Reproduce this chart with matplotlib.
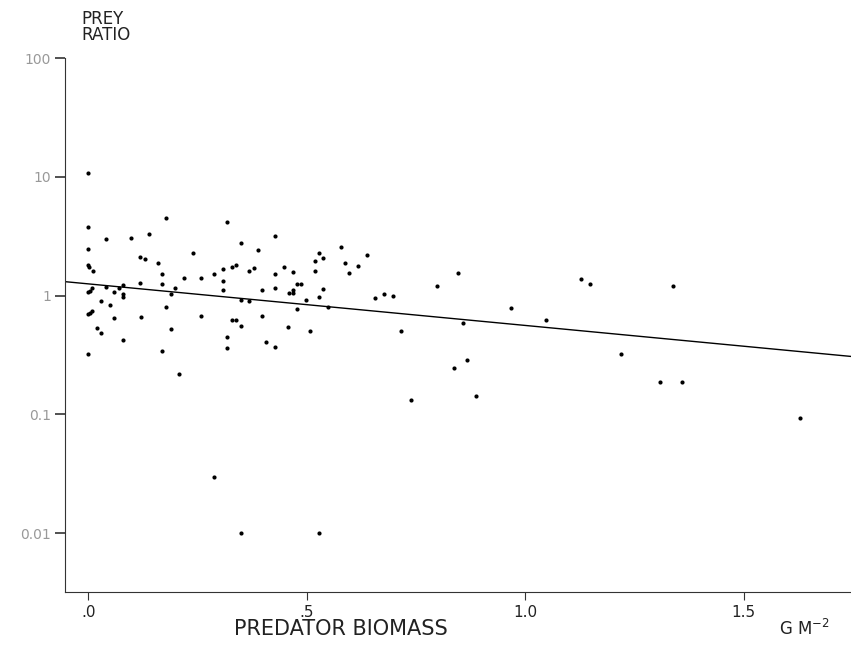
import numpy as np
import matplotlib
matplotlib.use('Agg')
import matplotlib.pyplot as plt

# predator biomass (g m-2) and prey ratio
biomass = [
    0.000, 0.000, 0.000, 0.000, 0.002, 0.011, 0.000, 0.005, 0.009,
    0.000, 0.005, 0.009, 0.000,
    0.178, 0.318, 0.040, 0.099, 0.139, 0.349, 0.428, 0.239, 0.389,
    0.119, 0.130, 0.159, 0.169, 0.219, 0.259, 0.289, 0.308, 0.330,
    0.339, 0.368, 0.379, 0.428, 0.449, 0.469, 0.519, 0.528, 0.538,
    0.519, 0.579, 0.588, 0.598, 0.618, 0.638,
    0.119, 0.169, 0.199, 0.189, 0.308, 0.308, 0.399, 0.428, 0.478,
    0.488, 0.459, 0.468, 0.468, 0.538, 0.528, 0.499, 0.479, 0.549,
    0.349, 0.368,
    0.040, 0.060, 0.070, 0.080, 0.079, 0.080, 0.030, 0.050, 0.060,
    0.120, 0.021, 0.030, 0.079, 0.179, 0.189, 0.169, 0.209, 0.259,
    0.329, 0.339, 0.349, 0.318, 0.318, 0.399, 0.408, 0.428, 0.458,
    0.508,
    0.657, 0.677, 0.698, 0.717, 0.798, 0.847, 0.858, 0.968, 1.049,
    1.129, 1.149, 1.339, 0.868, 0.838, 0.738, 0.888, 1.219, 1.309,
    1.359, 1.629, 0.288, 0.349, 0.529,
]
prey_ratio = [
    10.8, 3.82, 2.48, 1.80, 1.74, 1.63, 1.07, 1.10, 1.16,
    0.70, 0.72, 0.75, 0.32,
    4.50, 4.16, 3.01, 3.09, 3.30, 2.79, 3.21, 2.30, 2.45,
    2.11, 2.05, 1.89, 1.51, 1.41, 1.41, 1.53, 1.69, 1.76,
    1.81, 1.60, 1.72, 1.51, 1.73, 1.57, 1.96, 2.31, 2.06,
    1.63, 2.55, 1.90, 1.54, 1.78, 2.21,
    1.27, 1.25, 1.17, 1.03, 1.34, 1.12, 1.12, 1.17, 1.25,
    1.25, 1.05, 1.05, 1.12, 1.14, 0.97, 0.92, 0.78, 0.80,
    0.92, 0.90,
    1.19, 1.07, 1.17, 1.22, 1.03, 0.98, 0.90, 0.83, 0.65,
    0.66, 0.53, 0.49, 0.42, 0.81, 0.52, 0.34, 0.22, 0.68,
    0.62, 0.63, 0.56, 0.45, 0.36, 0.68, 0.41, 0.37, 0.55,
    0.50,
    0.96, 1.04, 0.99, 0.50, 1.20, 1.55, 0.59, 0.79, 0.63,
    1.37, 1.26, 1.21, 0.29, 0.245, 0.133, 0.143, 0.32, 0.187,
    0.187, 0.094, 0.030, 0.010, 0.010,
]

# fitted regression line: log10(ratio) = a + b * biomass
fit_a = 0.10
fit_b = -0.35

y_ticks = [0.01, 0.1, 1, 10, 100]
y_labels = ['0.01', '0.1', '1', '10', '100']
x_ticks = [0.0, 0.5, 1.0, 1.5]
x_labels = ['.0', '.5', '1.0', '1.5']

fig = plt.figure(figsize=(8.51, 6.47), dpi=100)
ax = fig.add_axes([0.0764, 0.085, 0.9236, 0.825])

ax.plot(biomass, prey_ratio, 'o', color='black', markersize=3, markeredgewidth=0)

xlim = (-0.053, 1.746)
xx = np.array(xlim)
ax.plot(xx, 10 ** (fit_a + fit_b * xx), color='black', linewidth=1.0)

ax.set_yscale('log')
ax.set_xlim(*xlim)
ax.set_ylim(0.0032, 100)

ax.set_yticks(y_ticks)
ax.set_yticklabels(y_labels)
ax.yaxis.set_minor_locator(matplotlib.ticker.NullLocator())
ax.set_xticks(x_ticks)
ax.set_xticklabels(x_labels)

ax.spines['top'].set_visible(False)
ax.spines['right'].set_visible(False)
ax.spines['left'].set_color('#333333')
ax.spines['bottom'].set_color('#333333')

ax.tick_params(axis='y', direction='out', length=7, width=1.2, color='#333333',
               labelsize=10, labelcolor='#999999', pad=3)
ax.tick_params(axis='x', direction='out', length=6, width=0.8, color='#333333',
               labelsize=11, labelcolor='#222222', pad=3)

fig.text(0.096, 0.985, 'PREY\nRATIO', ha='left', va='top', fontsize=12,
         color='#222222', linespacing=0.9)
fig.text(0.40, 0.012, 'PREDATOR BIOMASS', ha='center', va='bottom',
         fontsize=15, color='#222222')
fig.text(0.915, 0.012, 'G M$^{-2}$', ha='left', va='bottom', fontsize=12,
         color='#222222')

plt.savefig('out.png', dpi=100)
plt.close()
